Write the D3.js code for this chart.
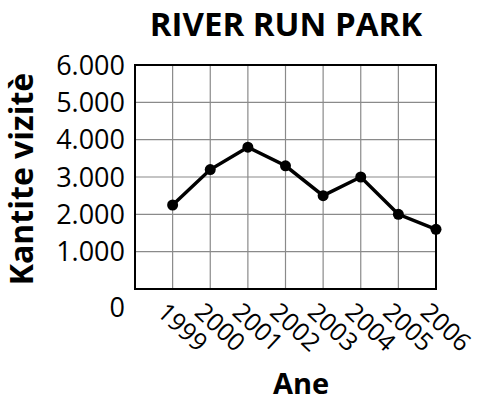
<!DOCTYPE html>
<html>
<head>
<meta charset="utf-8">
<script src="https://cdn.jsdelivr.net/npm/d3@7"></script>
<style>
  body { margin: 0; background: #fff; }
  text { font-family: "Open Sans", "DejaVu Sans", sans-serif; fill: #000; }
</style>
</head>
<body>
<svg id="chart" width="479" height="404"></svg>
<script>
// Chart data :
var years = [1999, 2000, 2001, 2002, 2003, 2004, 2005, 2006];
var visits = [2250, 3200, 3800, 3300, 2500, 3000, 2000, 1600];
var yTicks = [1000, 2000, 3000, 4000, 5000, 6000];
var yTickLabels = ["1.000", "2.000", "3.000", "4.000", "5.000", "6.000"];

var svg = d3.select("#chart");

// Plot box (note: "top" is taken by window.top) :
var plotLeft = 135, plotRight = 436, plotTop = 65, plotBottom = 289;

var x = d3.scaleLinear().domain([1998, 2006]).range([plotLeft, plotRight]);
var y = d3.scaleLinear().domain([0, 6000]).range([plotBottom, plotTop]);

// Grid lines :
svg.append("g").selectAll("line")
   .data(years)
   .enter().append("line")
   .attr("x1", function(d) { return x(d); })
   .attr("x2", function(d) { return x(d); })
   .attr("y1", plotTop)
   .attr("y2", plotBottom)
   .style("stroke", "#8a8a8a")
   .style("stroke-width", 1.2);

svg.append("g").selectAll("line")
   .data(yTicks)
   .enter().append("line")
   .attr("x1", plotLeft)
   .attr("x2", plotRight)
   .attr("y1", function(d) { return y(d); })
   .attr("y2", function(d) { return y(d); })
   .style("stroke", "#8a8a8a")
   .style("stroke-width", 1.2);

// Frame :
svg.append("rect")
   .attr("x", plotLeft)
   .attr("y", plotTop)
   .attr("width", plotRight - plotLeft)
   .attr("height", plotBottom - plotTop)
   .style("fill", "none")
   .style("stroke", "#000")
   .style("stroke-width", 2);

// Y tick labels :
svg.append("g").selectAll("text")
   .data(yTicks)
   .enter().append("text")
   .attr("x", 125)
   .attr("y", function(d) { return y(d); })
   .attr("dy", "0.36em")
   .attr("text-anchor", "end")
   .style("font-size", "27px")
   .text(function(d, i) { return yTickLabels[i]; });

svg.append("text")
   .attr("x", 125)
   .attr("y", y(0) + 18)
   .attr("dy", "0.36em")
   .attr("text-anchor", "end")
   .style("font-size", "27px")
   .text("0");

// X tick labels, rotated :
svg.append("g").selectAll("text")
   .data(years)
   .enter().append("text")
   .attr("transform", function(d) { return "translate(" + (x(d) - 17) + "," + (plotBottom + 25) + ") rotate(43)"; })
   .style("font-size", "25px")
   .text(function(d) { return d; });

// Line and points :
var line = d3.line()
   .x(function(d, i) { return x(years[i]); })
   .y(function(d) { return y(d); });

svg.append("path")
   .datum(visits)
   .attr("d", line)
   .style("fill", "none")
   .style("stroke", "#000")
   .style("stroke-width", 3.5);

svg.append("g").selectAll("circle")
   .data(visits)
   .enter().append("circle")
   .attr("cx", function(d, i) { return x(years[i]); })
   .attr("cy", function(d) { return y(d); })
   .attr("r", 5.5)
   .style("fill", "#000");

// Titles :
svg.append("text")
   .attr("x", 286)
   .attr("y", 36)
   .attr("text-anchor", "middle")
   .style("font-size", "33px")
   .style("font-weight", "bold")
   .text("RIVER RUN PARK");

svg.append("text")
   .attr("x", 301)
   .attr("y", 394)
   .attr("text-anchor", "middle")
   .style("font-size", "29px")
   .style("font-weight", "bold")
   .text("Ane");

svg.append("text")
   .attr("transform", "translate(33,179) rotate(-90)")
   .attr("text-anchor", "middle")
   .style("font-size", "32px")
   .style("font-weight", "bold")
   .text("Kantite vizitè");
</script>
</body>
</html>
